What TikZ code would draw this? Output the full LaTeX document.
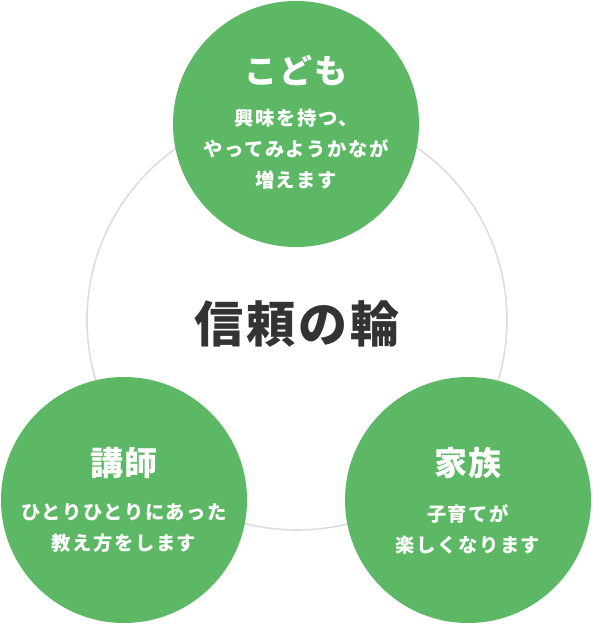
\documentclass[tikz,border=0pt]{standalone}
\usepackage{fontspec}
\newfontfamily\cjk{Noto Sans CJK JP}
\definecolor{leafgreen}{HTML}{5DB865}
\definecolor{ringgray}{HTML}{DDDDDD}
\definecolor{inkdark}{HTML}{333333}
\tikzset{
  gcircle/.style={circle, fill=leafgreen, draw=none, minimum size=246pt, inner sep=0pt},
  ctitle/.style={text=white, font=\cjk\bfseries\addfontfeatures{LetterSpace=5}\fontsize{33}{38}\selectfont, inner sep=0pt},
  csub/.style={text=white, align=center, font=\cjk\bfseries\addfontfeatures{LetterSpace=8}\fontsize{19.3}{31}\selectfont, inner sep=0pt},
  maintitle/.style={text=inkdark, font=\cjk\bfseries\addfontfeatures{LetterSpace=6}\fontsize{49}{54}\selectfont, inner sep=0pt}
}
\begin{document}
\begin{tikzpicture}[x=1pt,y=-1pt]
\useasboundingbox (0,0) rectangle (592,626);
\node[circle, draw=ringgray, line width=1.6pt, minimum size=420pt, inner sep=0pt] (ring) at (297,320) {};
\node[maintitle] (trust) at (297,324) {信頼の輪};
\node[gcircle] (kodomo) at (296,124) {};
\node[gcircle] (koshi) at (124,500) {};
\node[gcircle] (kazoku) at (468,500) {};
\node[ctitle] (kodomoT) at (296,70) {こども};
\node[csub] (kodomoS) at (296,149) {興味を持つ、\\やってみようかなが\\増えます};
\node[ctitle] (koshiT) at (124,463) {講師};
\node[csub] (koshiS) at (124,528) {ひとりひとりにあった\\教え方をします};
\node[ctitle] (kazokuT) at (468,463) {家族};
\node[csub] (kazokuS) at (468,529) {子育てが\\楽しくなります};
\end{tikzpicture}
\end{document}
